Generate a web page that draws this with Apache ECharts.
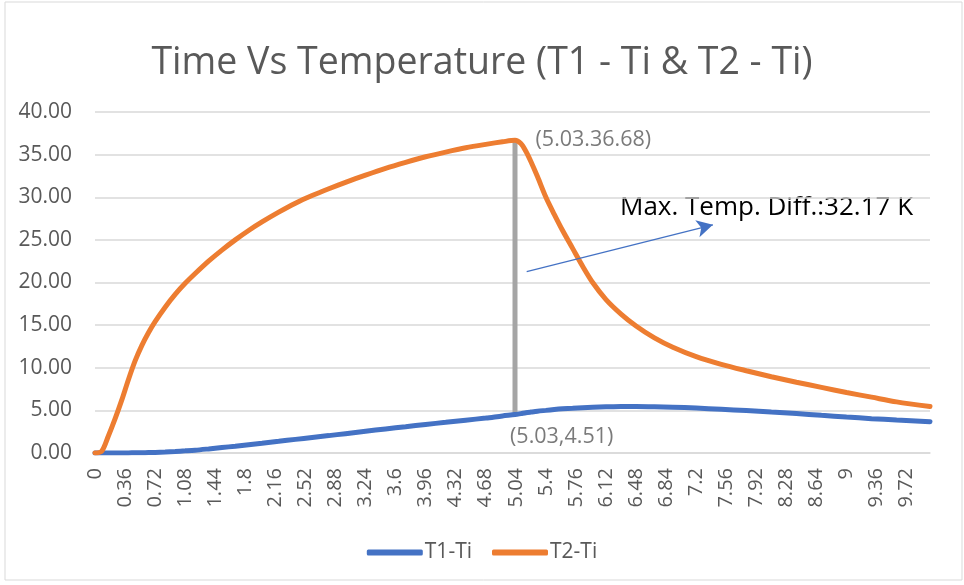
<!DOCTYPE html>
<html>
<head>
<meta charset="utf-8">
<title>Time Vs Temperature</title>
<script src="https://cdn.jsdelivr.net/npm/echarts@6/dist/echarts.min.js"></script>
<style>
  html, body { margin: 0; padding: 0; background: #ffffff; }
  #chart { width: 964px; height: 585px; }
</style>
</head>
<body>
<div id="chart"></div>
<script>
// Time samples (s) and the two temperature differences (K)
const times = [0, 0.08, 0.16, 0.24, 0.32, 0.40, 0.48, 0.56, 0.64, 0.72, 0.84, 0.96, 1.08, 1.20, 1.36, 1.52, 1.68, 1.84, 2.00, 2.20, 2.40, 2.60, 2.80, 3.00, 3.24, 3.48, 3.72, 3.96, 4.20, 4.44, 4.68, 4.88, 5.03, 5.10, 5.16, 5.22, 5.30, 5.40, 5.50, 5.60, 5.72, 5.84, 5.96, 6.12, 6.30, 6.48, 6.70, 6.92, 7.20, 7.50, 7.80, 8.10, 8.40, 8.70, 9.00, 9.30, 9.60, 10.00];

const t1Ti = [0, 0, 0, 0, 0, 0.01, 0.02, 0.03, 0.05, 0.07, 0.12, 0.18, 0.25, 0.33, 0.48, 0.64, 0.80, 0.98, 1.15, 1.37, 1.60, 1.82, 2.04, 2.27, 2.55, 2.82, 3.08, 3.35, 3.60, 3.85, 4.10, 4.35, 4.51, 4.62, 4.72, 4.80, 4.90, 5.00, 5.10, 5.18, 5.25, 5.32, 5.37, 5.42, 5.45, 5.46, 5.43, 5.37, 5.27, 5.13, 4.98, 4.80, 4.62, 4.42, 4.22, 4.03, 3.87, 3.68];

const t2Ti = [0, 0.2, 2.0, 4.0, 6.2, 8.6, 10.8, 12.6, 14.1, 15.4, 17.1, 18.6, 19.9, 21.05, 22.5, 23.8, 25.0, 26.1, 27.1, 28.25, 29.3, 30.2, 31.0, 31.75, 32.6, 33.4, 34.1, 34.75, 35.3, 35.8, 36.2, 36.5, 36.68, 36.3, 35.4, 34.2, 32.4, 30.0, 28.0, 26.1, 24.0, 21.9, 20.0, 18.0, 16.3, 14.9, 13.5, 12.4, 11.3, 10.4, 9.65, 8.95, 8.3, 7.7, 7.1, 6.55, 6.0, 5.45];

// Axis tick settings
const xTickStep = 0.36;
const yTicks = [0, 5, 10, 15, 20, 25, 30, 35, 40];

// Maximum-difference marker
const peakTime = 5.03;
const peakT1 = 4.51;
const peakT2 = 36.68;
const arrowFrom = [5.17, 21.27];
const arrowTo = [7.40, 26.76];
const diffText = 'Max. Temp. Diff.:' + (peakT2 - peakT1).toFixed(2) + ' K';

const FONT = '"Open Sans", sans-serif';
const GREY = '#595959';

const chart = echarts.init(document.getElementById('chart'), null, { renderer: 'canvas' });

const pair = (arr) => times.map((t, i) => [t, arr[i]]);

chart.setOption({
  animation: false,
  backgroundColor: '#ffffff',
  textStyle: { fontFamily: FONT },
  title: {
    text: 'Time Vs Temperature (T1 - Ti & T2 - Ti)',
    left: 'center',
    top: 39,
    textStyle: { fontFamily: FONT, fontSize: 37.5, fontWeight: 'normal', color: GREY }
  },
  legend: {
    data: ['T1-Ti', 'T2-Ti'],
    left: 'center',
    top: 537,
    icon: 'roundRect',
    itemWidth: 56,
    itemHeight: 6,
    itemGap: 20,
    textStyle: { fontFamily: FONT, fontSize: 21, color: GREY, padding: [0, 0, 0, -3] }
  },
  grid: { left: 95, right: 34, top: 112, bottom: 132 },
  xAxis: {
    type: 'value',
    min: 0,
    max: 10,
    interval: xTickStep,
    axisLine: { show: true, lineStyle: { color: '#D9D9D9', width: 1.5 } },
    axisTick: { show: false },
    splitLine: { show: false },
    axisLabel: {
      rotate: 90,
      margin: 15,
      showMaxLabel: false,
      fontFamily: FONT,
      fontSize: 20,
      color: GREY
    }
  },
  yAxis: {
    type: 'value',
    min: yTicks[0],
    max: yTicks[yTicks.length - 1],
    interval: yTicks[1] - yTicks[0],
    axisLine: { show: false },
    axisTick: { show: false },
    splitLine: { lineStyle: { color: '#D9D9D9', width: 1.5 } },
    axisLabel: {
      margin: 23,
      fontFamily: FONT,
      fontSize: 21,
      color: GREY,
      formatter: (v) => v.toFixed(2)
    }
  },
  graphic: [
    {
      type: 'rect',
      shape: { x: 5, y: 2, width: 957, height: 578 },
      style: { fill: 'none', stroke: '#D9D9D9', lineWidth: 1 },
      z: -1,
      silent: true
    },
    {
      type: 'text',
      left: 620,
      top: 195,
      style: { text: diffText, fontFamily: FONT, fontSize: 26, fill: '#000000' },
      silent: true
    }
  ],
  series: [
    {
      name: 'T1-Ti',
      type: 'line',
      data: pair(t1Ti),
      showSymbol: false,
      smooth: 0.3,
      lineStyle: { color: '#4472C4', width: 5, cap: 'round' },
      itemStyle: { color: '#4472C4' },
      z: 3
    },
    {
      name: 'T2-Ti',
      type: 'line',
      data: pair(t2Ti),
      showSymbol: false,
      smooth: 0.3,
      lineStyle: { color: '#ED7D31', width: 5, cap: 'round' },
      itemStyle: { color: '#ED7D31' },
      z: 3
    },
    {
      name: 'Max difference',
      type: 'line',
      data: [[peakTime, peakT1], [peakTime, peakT2]],
      showSymbol: false,
      lineStyle: { color: '#A5A5A5', width: 5 },
      z: 2,
      silent: true
    },
    {
      name: 'Difference labels',
      type: 'scatter',
      symbolSize: 1,
      itemStyle: { color: 'rgba(0,0,0,0)' },
      silent: true,
      z: 4,
      data: [
        {
          value: [peakTime, peakT1],
          label: {
            show: true,
            position: 'bottom',
            distance: 11,
            align: 'left',
            offset: [-5, 0],
            formatter: '(' + peakTime.toFixed(2) + ',' + peakT1.toFixed(2) + ')',
            fontFamily: FONT, fontSize: 21.5, color: GREY
          }
        },
        {
          value: [peakTime, peakT2],
          label: {
            show: true,
            position: 'right',
            distance: 20,
            formatter: '(' + peakTime.toFixed(2) + '.' + peakT2.toFixed(2) + ')',
            fontFamily: FONT, fontSize: 21.5, color: GREY
          }
        }
      ],
      markLine: {
        silent: true,
        symbol: ['none', 'arrow'],
        symbolSize: [13, 16],
        label: { show: false },
        lineStyle: { color: '#4472C4', width: 1.2, type: 'solid' },
        data: [[
          { coord: arrowFrom, symbol: 'none' },
          { coord: arrowTo, symbol: 'arrow' }
        ]]
      }
    }
  ]
});
</script>
</body>
</html>
